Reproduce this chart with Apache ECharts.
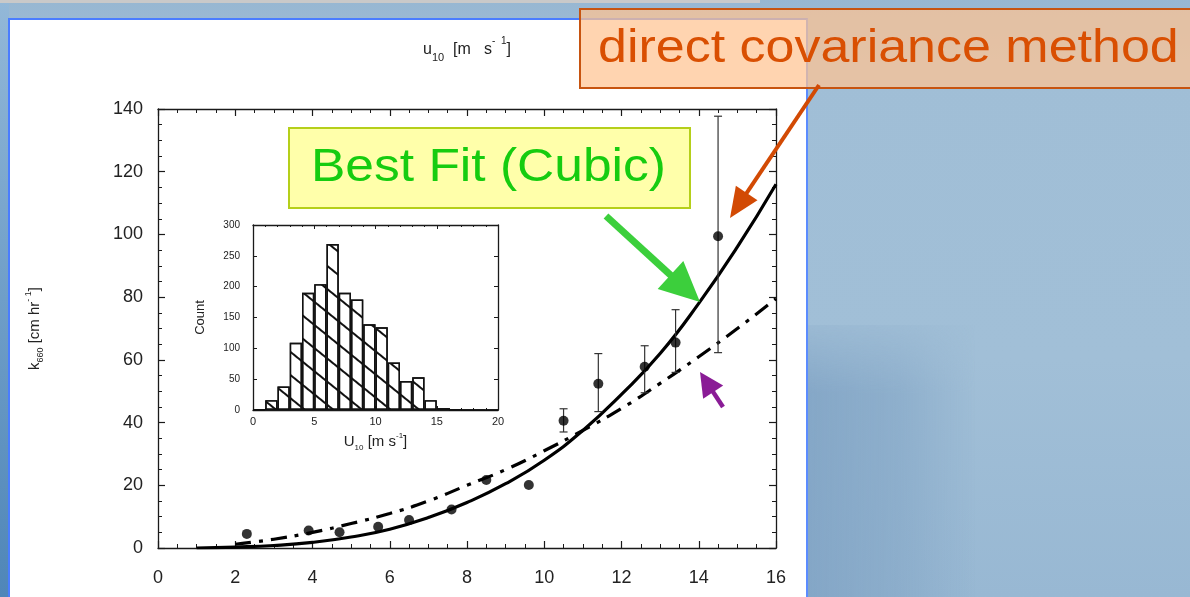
<!DOCTYPE html>
<html>
<head>
<meta charset="utf-8">
<script src="https://cdn.jsdelivr.net/npm/echarts@6/dist/echarts.min.js"></script>
<style>
  html, body { margin: 0; padding: 0; width: 1190px; height: 597px; overflow: hidden; }
  #bg { position: absolute; left: 0; top: 0; width: 1190px; height: 597px;
        background: linear-gradient(180deg, #97b7d2 0%, #a0bed6 10%, #a1bfd7 60%, #98b8d3 100%); }
  #bgdark { position: absolute; left: 806px; top: 325px; width: 170px; height: 272px;
        background: linear-gradient(90deg, rgba(128,163,196,0.85) 0%, rgba(135,169,200,0.7) 55%, rgba(150,185,214,0) 100%);
        -webkit-mask-image: linear-gradient(180deg, rgba(0,0,0,0.2) 0%, rgba(0,0,0,1) 25%, rgba(0,0,0,1) 100%); }
  #leftstrip { position: absolute; left: 0; top: 0; width: 9px; height: 597px;
        background: linear-gradient(180deg, #93b8d8 0%, #6f9ec8 50%, #4f86b8 100%); }
  #graybar { position: absolute; left: 0; top: 0; width: 760px; height: 3px; background: #c9c9c9; }
  #panel { position: absolute; left: 8px; top: 18px; width: 796px; height: 600px; background: #ffffff;
        border-left: 2px solid #4a7dff; border-top: 2px solid #4a7dff; border-right: 2px solid #5b8cff; }
  #chart { position: absolute; left: 0; top: 0; width: 1190px; height: 597px; }
</style>
</head>
<body>
<div id="bg"></div>
<div id="bgdark"></div>
<div id="leftstrip"></div>
<div id="graybar"></div>
<div id="panel"></div>
<div id="chart"></div>
<script>
// ---- data ----
// measured points (wind speed, transfer velocity) and error bar limits
var ptX   = [2.3, 3.9, 4.7, 5.7, 6.5, 7.6, 8.5, 9.6, 10.5, 11.4, 12.6, 13.4, 14.5];
var ptY   = [4.5, 5.6, 5.0, 6.8, 8.9, 12.3, 21.7, 20.1, 40.6, 52.4, 57.8, 65.5, 99.4];
var errLo = [4.5, 5.6, 5.0, 6.8, 8.9, 12.3, 21.7, 20.1, 37.0, 43.5, 49.5, 56.0, 62.3];
var errHi = [4.5, 5.6, 5.0, 6.8, 8.9, 12.3, 21.7, 20.1, 44.4, 62.0, 64.5, 76.0, 137.7];
// best-fit cubic curve (solid)
var cubicX = [1, 2, 3, 4, 5, 6, 7, 8, 9, 10, 11, 12, 13, 14, 15, 16];
var cubicY = [0, 0.3, 0.8, 1.8, 3.5, 6, 9.7, 14.5, 20.5, 28, 37.5, 49, 62, 78, 96, 116];
// quadratic curve (dash-dot)
var quadX = [2, 3, 4, 5, 6, 7, 8, 9, 10, 11, 12, 13, 14, 15, 16];
var quadY = [1.2, 2.8, 5, 7.8, 11, 15, 20, 25, 31, 37.5, 44.5, 52.5, 61, 70, 79.5];
// inset histogram: counts per 1 m/s bin (0-1 ... 19-20)
var binLabels = ['0','1','2','3','4','5','6','7','8','9','10','11','12','13','14','15','16','17','18','19'];
var binCounts = [1, 16, 38, 109, 190, 204, 269, 190, 179, 139, 134, 77, 47, 53, 16, 3, 1, 0, 0, 0];
// annotation texts
var txtBestFit = 'Best Fit (Cubic)';
var txtMethod = 'direct covariance method';

var chart = echarts.init(document.getElementById('chart'), null, { renderer: 'canvas' });

function pairs(xs, ys) { return xs.map(function (x, i) { return [x, ys[i]]; }); }

var FONT = 'Liberation Sans, Arial, sans-serif';
var axisBlack = { onZero: false, lineStyle: { color: '#1a1a1a', width: 1.3 } };
var bigTick = { inside: true, length: 7, lineStyle: { color: '#1a1a1a', width: 1.2 } };
var bigMinor = { show: true, splitNumber: 4, length: 4, lineStyle: { color: '#1a1a1a', width: 1 } };
var smallTick = { inside: true, length: 4, lineStyle: { color: '#1a1a1a' } };

function arrow(x1, y1, x2, y2, color, width, headLen, headW) {
  var dx = x2 - x1, dy = y2 - y1, L = Math.sqrt(dx * dx + dy * dy);
  var ux = dx / L, uy = dy / L, px = -uy, py = ux;
  var bx = x2 - ux * headLen, by = y2 - uy * headLen;
  return [
    { type: 'line', z: 100, shape: { x1: x1, y1: y1, x2: bx + ux * 2, y2: by + uy * 2 },
      style: { stroke: color, lineWidth: width } },
    { type: 'polygon', z: 100, shape: { points: [[x2, y2], [bx + px * headW, by + py * headW], [bx - px * headW, by - py * headW]] },
      style: { fill: color } }
  ];
}

var option = {
  animation: false,
  backgroundColor: 'transparent',
  textStyle: { fontFamily: FONT },
  grid: [
    { left: 158, top: 109, right: 414, bottom: 49, show: false },
    { left: 253, top: 225, width: 245, height: 185, show: false }
  ],
  xAxis: [
    { type: 'value', gridIndex: 0, position: 'bottom', min: 0, max: 16, interval: 2,
      axisLine: axisBlack, splitLine: { show: false }, axisTick: bigTick, minorTick: bigMinor,
      axisLabel: { fontSize: 18, color: '#222', margin: 21, fontFamily: FONT } },
    { type: 'value', gridIndex: 0, position: 'top', min: 0, max: 16, interval: 2,
      axisLine: axisBlack, splitLine: { show: false }, axisTick: bigTick, minorTick: bigMinor,
      axisLabel: { show: false },
      name: 'u{sub|10}  [m   s{sup|-  1}]', nameLocation: 'middle', nameGap: 46,
      nameTextStyle: { fontSize: 16, color: '#222', fontFamily: FONT,
        rich: { sub: { fontSize: 11, verticalAlign: 'bottom', padding: [16, 0, 0, 0], color: '#222' },
                sup: { fontSize: 10, verticalAlign: 'top', padding: [0, 0, 10, 0], color: '#222' } } } },
    { type: 'value', gridIndex: 1, position: 'bottom', min: 0, max: 20, interval: 5,
      axisLine: axisBlack, splitLine: { show: false }, axisTick: smallTick,
      minorTick: { show: true, splitNumber: 5, length: 2, lineStyle: { color: '#1a1a1a' } },
      axisLabel: { fontSize: 11, color: '#222', margin: 6, fontFamily: FONT },
      name: 'U{sub|10} [m s{sup|-1}]', nameLocation: 'middle', nameGap: 22,
      nameTextStyle: { fontSize: 15, color: '#222', fontFamily: FONT,
        rich: { sub: { fontSize: 8, verticalAlign: 'bottom', padding: [12, 0, 0, 0], color: '#222' },
                sup: { fontSize: 8, verticalAlign: 'top', padding: [0, 0, 9, 0], color: '#222' } } } },
    { type: 'value', gridIndex: 1, position: 'top', min: 0, max: 20, interval: 5,
      axisLine: axisBlack, splitLine: { show: false }, axisTick: smallTick,
      minorTick: { show: true, splitNumber: 5, length: 2, lineStyle: { color: '#1a1a1a' } },
      axisLabel: { show: false } },
    { type: 'category', gridIndex: 1, data: binLabels, boundaryGap: true, show: false }
  ],
  yAxis: [
    { type: 'value', gridIndex: 0, position: 'left', min: 0, max: 140, interval: 20,
      axisLine: axisBlack, splitLine: { show: false }, axisTick: bigTick, minorTick: bigMinor,
      axisLabel: { fontSize: 18, color: '#222', margin: 15, fontFamily: FONT },
      name: 'k{sub|660} [cm hr{sup|- 1}]', nameLocation: 'middle', nameGap: 113, nameRotate: 90,
      nameTextStyle: { fontSize: 15, color: '#222', fontFamily: FONT,
        rich: { sub: { fontSize: 9, verticalAlign: 'bottom', padding: [12, 0, 0, 0], color: '#222' },
                sup: { fontSize: 9, verticalAlign: 'top', padding: [0, 0, 10, 0], color: '#222' } } } },
    { type: 'value', gridIndex: 0, position: 'right', min: 0, max: 140, interval: 20,
      axisLine: axisBlack, splitLine: { show: false }, axisTick: bigTick, minorTick: bigMinor,
      axisLabel: { show: false } },
    { type: 'value', gridIndex: 1, position: 'left', min: 0, max: 300, interval: 50,
      axisLine: axisBlack, splitLine: { show: false }, axisTick: smallTick,
      axisLabel: { fontSize: 10, color: '#222', margin: 13, fontFamily: FONT },
      name: 'Count', nameLocation: 'middle', nameGap: 46, nameRotate: 90,
      nameTextStyle: { fontSize: 13, color: '#222', fontFamily: FONT } },
    { type: 'value', gridIndex: 1, position: 'right', min: 0, max: 300, interval: 50,
      axisLine: axisBlack, splitLine: { show: false }, axisTick: smallTick,
      axisLabel: { show: false } }
  ],
  series: [
    { type: 'bar', xAxisIndex: 4, yAxisIndex: 2, data: binCounts, barCategoryGap: 0, barGap: 0,
      itemStyle: { color: '#ffffff', borderColor: '#111', borderWidth: 1.4,
        decal: { symbol: 'rect', symbolSize: 1, color: '#111', dashArrayX: [1, 0], dashArrayY: [1.6, 16], rotation: 0.68 } } },
    { type: 'line', xAxisIndex: 0, yAxisIndex: 0, data: pairs(cubicX, cubicY), smooth: true, symbol: 'none',
      lineStyle: { color: '#000', width: 3.2 }, z: 3 },
    { type: 'line', xAxisIndex: 0, yAxisIndex: 0, data: pairs(quadX, quadY), smooth: true, symbol: 'none',
      lineStyle: { color: '#000', width: 3.2, type: [16, 8, 4, 8] }, z: 3 },
    { type: 'custom', xAxisIndex: 0, yAxisIndex: 0, z: 4,
      data: ptX.map(function (x, i) { return [x, errLo[i], errHi[i]]; }),
      renderItem: function (params, api) {
        var x = api.value(0), lo = api.value(1), hi = api.value(2);
        if (hi - lo < 0.5) return null;
        var a = api.coord([x, lo]), b = api.coord([x, hi]);
        var st = { stroke: '#333', lineWidth: 1.2 };
        return { type: 'group', children: [
          { type: 'line', shape: { x1: a[0], y1: a[1], x2: b[0], y2: b[1] }, style: st },
          { type: 'line', shape: { x1: a[0] - 4, y1: a[1], x2: a[0] + 4, y2: a[1] }, style: st },
          { type: 'line', shape: { x1: b[0] - 4, y1: b[1], x2: b[0] + 4, y2: b[1] }, style: st }
        ] };
      } },
    { type: 'scatter', xAxisIndex: 0, yAxisIndex: 0, data: pairs(ptX, ptY), symbol: 'circle', symbolSize: 10,
      itemStyle: { color: '#000' }, z: 5 }
  ],
  graphic: [
    { type: 'rect', z: 100, shape: { x: 289, y: 128, width: 401, height: 80 },
      style: { fill: '#ffffaa', stroke: '#b5cf1a', lineWidth: 2 } },
    { type: 'text', z: 101, x: 311, y: 168, scaleX: 1.12,
      style: { text: txtBestFit, fill: '#16cc10', font: '46px ' + FONT, textVerticalAlign: 'middle', textAlign: 'left' } },
    { type: 'rect', z: 100, shape: { x: 580, y: 9, width: 618, height: 79 },
      style: { fill: 'rgba(255,196,145,0.72)', stroke: '#c75410', lineWidth: 2 } },
    { type: 'text', z: 101, x: 598, y: 49, scaleX: 1.13,
      style: { text: txtMethod, fill: '#d94f02', font: '46px ' + FONT, textVerticalAlign: 'middle', textAlign: 'left' } }
  ]
    .concat(arrow(819, 85, 730, 218, '#d24a04', 4, 30, 13))
    .concat(arrow(606, 216, 700, 302, '#3ccf3c', 7, 40, 19))
    .concat(arrow(723, 407, 700, 372, '#8a1c96', 4.5, 24, 12))
};

chart.setOption(option);
</script>
</body>
</html>
